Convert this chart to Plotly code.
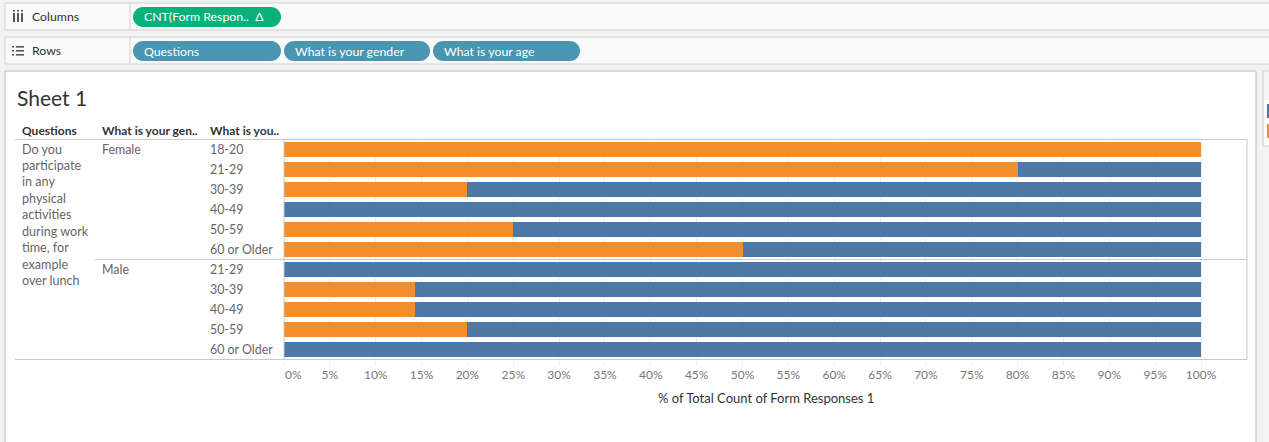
import plotly.graph_objects as go

# ---------------- data ----------------
question = "Do you participate in any physical activities during work time, for example over lunch"
question_lines = ["Do you", "participate", "in any", "physical", "activities",
                  "during work", "time, for", "example", "over lunch"]
genders = ["Female", "Female", "Female", "Female", "Female", "Female",
           "Male", "Male", "Male", "Male", "Male"]
ages = ["18-20", "21-29", "30-39", "40-49", "50-59", "60 or Older",
        "21-29", "30-39", "40-49", "50-59", "60 or Older"]
yes_pct = [100, 80, 20, 0, 25, 50, 0, 14.29, 14.29, 20, 0]
no_pct = [0, 20, 80, 100, 75, 50, 100, 85.71, 85.71, 80, 100]
tick_values = [i * 5 for i in range(21)]
x_title = "% of Total Count of Form Responses 1"
sheet_title = "Sheet 1"
headers = ["Questions", "What is your gen..", "What is you.."]
column_pills = ["CNT(Form Respon..  \u0394"]
row_pills = ["Questions", "What is your gender", "What is your age"]

ORANGE = "#F28E2B"
BLUE = "#4E79A7"
W, H = 1269, 442
FONT = "Lato, 'Open Sans', sans-serif"


def X(p):
    return p / W


def Y(p):
    return 1 - p / H


shapes = []
annotations = []


def rect(x0, y0, x1, y1, fill, line=None, lw=1, layer="below"):
    shapes.append(dict(type="rect", xref="paper", yref="paper",
                       x0=X(x0), x1=X(x1), y0=Y(y0), y1=Y(y1),
                       fillcolor=fill, line=dict(color=line or fill, width=lw if line else 0),
                       layer=layer))


def hline(x0, x1, y, color="#c8c8c8", layer="above"):
    shapes.append(dict(type="line", xref="paper", yref="paper",
                       x0=X(x0), x1=X(x1), y0=Y(y), y1=Y(y),
                       line=dict(color=color, width=1), layer=layer))


def vline(x, y0, y1, color="#c8c8c8", layer="above"):
    shapes.append(dict(type="line", xref="paper", yref="paper",
                       x0=X(x), x1=X(x), y0=Y(y0), y1=Y(y1),
                       line=dict(color=color, width=1), layer=layer))


def pill(x0, y0, x1, y1, fill):
    r = (y1 - y0) / 2
    k = 0.5523 * r
    pts = [
        f"M {X(x0 + r)},{Y(y0)}",
        f"L {X(x1 - r)},{Y(y0)}",
        f"C {X(x1 - r + k)},{Y(y0)} {X(x1)},{Y(y0 + r - k)} {X(x1)},{Y(y0 + r)}",
        f"C {X(x1)},{Y(y0 + r + k)} {X(x1 - r + k)},{Y(y1)} {X(x1 - r)},{Y(y1)}",
        f"L {X(x0 + r)},{Y(y1)}",
        f"C {X(x0 + r - k)},{Y(y1)} {X(x0)},{Y(y0 + r + k)} {X(x0)},{Y(y0 + r)}",
        f"C {X(x0)},{Y(y0 + r - k)} {X(x0 + r - k)},{Y(y0)} {X(x0 + r)},{Y(y0)} Z",
    ]
    shapes.append(dict(type="path", xref="paper", yref="paper", path=" ".join(pts),
                       fillcolor=fill, line=dict(width=0), layer="below"))


def text(x, y, s, size=12, color="#555", bold=False, xanchor="left", yref="paper"):
    annotations.append(dict(
        x=X(x), y=(Y(y) if yref == "paper" else y), xref="paper", yref=yref,
        text=f"<b>{s}</b>" if bold else s, showarrow=False,
        xanchor=xanchor, yanchor="middle", align="left",
        font=dict(family=FONT, size=size, color=color), borderpad=0))


# ---------------- shelves ----------------
for (y0, y1) in [(3, 30), (37, 64)]:
    rect(5, y0, W + 5, y1, "#f9f9f9", "#d2d2d2")
    vline(130, y0, y1, "#d2d2d2", layer="below")

# columns icon (iii)
for xi in (13, 17, 21):
    rect(xi, 13, xi + 2, 22, "#555")
    rect(xi, 10, xi + 2, 11.5, "#555")
text(31, 16.5, "Columns", 12.3, "#333")
# rows icon
for yi in (46, 50, 54):
    rect(12, yi, 14, yi + 1.6, "#555")
    rect(16, yi, 24, yi + 1.6, "#555")
text(31, 50.5, "Rows", 12.3, "#333")

pill(133, 7, 281, 27, "#0AB07C")
text(143, 17, column_pills[0], 12.3, "white")
pill_x = [(133, 281), (284, 430), (433, 580)]
for (x0, x1), label in zip(pill_x, row_pills):
    pill(x0, 41, x1, 61, "#4A96B2")
    text(x0 + 10, 51, label, 12.3, "white")

# ---------------- main sheet panel ----------------
rect(5, 71, 1256, H + 10, "white", "#b9b9b9")
# right legend panel
rect(1263, 71, W + 10, 146, "white", "#cccccc")
rect(1264, 72, W + 10, 100, "#f4f4f4")
rect(1267, 104, W + 5, 118, BLUE)
rect(1267, 124, W + 5, 138, ORANGE)

text(16, 97, sheet_title, 21, "#333")

# header
text(21, 130, headers[0], 12, "#333", bold=True)
text(101, 130, headers[1], 12, "#333", bold=True)
text(209, 130, headers[2], 12, "#333", bold=True)

# table lines
hline(15, 1247, 139.5)
hline(95, 1247, 259.5)
hline(15, 1247, 359.5)
vline(284, 139.5, 359.5)
vline(1247, 139.5, 359.5)

# question text (wrapped)
for i, line in enumerate(question_lines):
    text(21, 149 + 16.45 * i, line, 12.6, "#666")

# gender labels at first row of each group
seen = set()
for i, g in enumerate(genders):
    if g not in seen:
        seen.add(g)
        text(101, i, g, 12.4, "#666", yref="y")

# age labels
for i, a in enumerate(ages):
    text(209, i, a, 12.4, "#666", yref="y")

text(765.5, 398, x_title, 13, "#333", xanchor="center")

# ---------------- bars ----------------
rows = list(range(len(ages)))
fig = go.Figure()
fig.add_trace(go.Bar(y=rows, x=[v / 100 for v in yes_pct], orientation="h",
                     marker=dict(color=ORANGE, line=dict(width=0)), name="Yes", width=0.75))
fig.add_trace(go.Bar(y=rows, x=[v / 100 for v in no_pct], orientation="h",
                     marker=dict(color=BLUE, line=dict(width=0)), name="No", width=0.75))

tick_text = [f"{t}%" for t in tick_values]
tick_text[0] = "\u00a0" * 6 + tick_text[0]  # first label sits inside the axis start, as in Tableau

fig.update_layout(
    width=W, height=H, autosize=False,
    margin=dict(l=0, r=0, t=0, b=0, pad=0, autoexpand=False),
    paper_bgcolor="#f3f3f3", plot_bgcolor="rgba(0,0,0,0)",
    barmode="stack", showlegend=False,
    font=dict(family=FONT),
    shapes=shapes, annotations=annotations,
    xaxis=dict(domain=[X(284), X(1247)], range=[0, 963 / 917],
               tickvals=[t / 100 for t in tick_values],
               ticktext=tick_text,
               showgrid=True, gridcolor="#efefef", gridwidth=1,
               zeroline=False, showline=False, automargin=False,
               ticks="outside", ticklen=4, tickcolor="#e8e8e8",
               tickfont=dict(family=FONT, size=12, color="#777"),
               fixedrange=True),
    yaxis=dict(domain=[Y(359.5), Y(139.5)], range=[len(ages) - 0.5, -0.5],
               showticklabels=False, showgrid=False, zeroline=False, automargin=False,
               showline=False, ticks="", fixedrange=True),
)

fig.write_html("out.html", config={"displayModeBar": False},
               post_script="document.body.style.margin='0';document.body.style.overflow='hidden';")
